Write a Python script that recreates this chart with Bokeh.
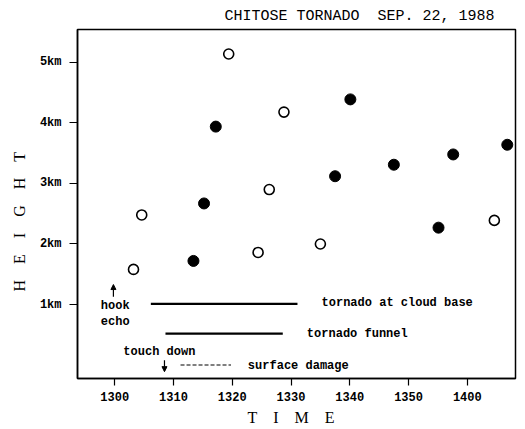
import math
from bokeh.plotting import figure
from bokeh.models import Label, FixedTicker, Title, Arrow, NormalHead
from bokeh.embed import file_html
from bokeh.resources import INLINE

# time in minutes after 13:00 (1300 ... 1400)
open_t = [3.2, 4.6, 19.4, 24.4, 26.3, 28.8, 35.0, 64.6]
open_h = [1.58, 2.48, 5.14, 1.86, 2.90, 4.18, 2.00, 2.39]
filled_t = [13.4, 15.2, 17.2, 37.5, 40.1, 47.5, 55.1, 57.6, 66.8]
filled_h = [1.72, 2.67, 3.94, 3.12, 4.39, 3.31, 2.27, 3.48, 3.64]

x_ticks = [0, 10, 20, 30, 40, 50, 60]
x_tick_labels = ["1300", "1310", "1320", "1330", "1340", "1350", "1400"]
y_ticks = [1, 2, 3, 4, 5]
y_tick_labels = ["1km", "2km", "3km", "4km", "5km"]

cloud_base = [6.15, 31.1]      # tornado at cloud base (time span)
funnel = [8.64, 28.6]          # tornado funnel
damage = [11.2, 19.8]          # surface damage
cloud_base_h = 1.01
funnel_h = 0.52
damage_h = 0.0

hook_echo_t = -0.22            # hook echo arrow (time, from/to height)
hook_echo_h = [1.13, 1.33]
touch_down_t = 8.47            # touch down arrow
touch_down_h = [0.08, -0.11]

NB = "\u00a0"
title_text = "CHITOSE TORNADO " + NB + "SEP. 22, 1988"
x_label = (NB * 4).join("TIME")
y_label = (NB * 4).join("HEIGHT")

p = figure(width=525, height=429, output_backend="svg", toolbar_location=None,
           x_range=(-6.33, 68.2), y_range=(-0.223, 5.545),
           min_border_left=76, min_border_right=10, min_border_top=29, min_border_bottom=51)
p.background_fill_color = "white"
p.border_fill_color = "white"
p.grid.visible = False
p.outline_line_color = "black"
p.outline_line_width = 1.5

mono = "Liberation Mono"
for ax in (p.xaxis[0], p.yaxis[0]):
    ax.axis_line_color = "black"
    ax.axis_line_width = 1.5
    ax.major_tick_line_color = "black"
    ax.major_tick_line_width = 1.2
    ax.major_tick_in = 0
    ax.minor_tick_line_color = None
    ax.major_label_text_font = mono
    ax.major_label_text_font_style = "bold"
    ax.major_label_text_font_size = "12px"
    ax.major_label_text_color = "black"

p.xaxis.ticker = FixedTicker(ticks=x_ticks)
p.xaxis.major_label_overrides = dict(zip(x_ticks, x_tick_labels))
p.xaxis.major_tick_out = 7
p.xaxis.major_label_standoff = 6
p.yaxis.ticker = FixedTicker(ticks=y_ticks)
p.yaxis.major_label_overrides = dict(zip(y_ticks, y_tick_labels))
p.yaxis.major_tick_out = 8
p.yaxis.major_label_standoff = 8

p.title.text = title_text
p.title.align = "right"
p.title.offset = 21
p.title.standoff = 9
p.title.text_font = mono
p.title.text_font_size = "15px"
p.title.text_font_style = "normal"
p.title.text_color = "black"

p.add_layout(Title(text=x_label, align="left", offset=170, text_font="Liberation Serif",
                   text_font_size="16px", text_font_style="normal", text_color="black",
                   standoff=7), "below")
p.add_layout(Title(text=y_label, align="left", offset=87, text_font="Liberation Serif",
                   text_font_size="16px", text_font_style="normal", text_color="black",
                   standoff=17), "left")

p.scatter(open_t, open_h, size=10, fill_color="white", line_color="black", line_width=1.6)
p.scatter(filled_t, filled_h, size=11, fill_color="black", line_color="black")

p.line(cloud_base, [cloud_base_h] * 2, line_color="black", line_width=2.2)
p.line(funnel, [funnel_h] * 2, line_color="black", line_width=2.2)
p.line(damage, [damage_h] * 2, line_color="black", line_width=1.2, line_dash="4 2")

for t, hs in ((hook_echo_t, hook_echo_h), (touch_down_t, touch_down_h)):
    p.add_layout(Arrow(end=NormalHead(size=5, fill_color="black", line_color="black", line_width=1),
                       x_start=t, y_start=hs[0], x_end=t, y_end=hs[1],
                       line_color="black", line_width=1.2))

def lab(x, y, text, size="12px", font=mono, style="bold", align="left"):
    p.add_layout(Label(x=x, y=y, text=text, text_font=font, text_font_size=size,
                       text_font_style=style, text_align=align, text_baseline="middle",
                       text_color="black"))

lab(35.2, 1.03, "tornado at cloud base")
lab(32.7, 0.51, "tornado funnel")
lab(22.66, -0.01, "surface damage")
lab(1.47, 0.22, "touch down")
lab(-2.37, 0.98, "hook")
lab(-2.37, 0.71, "echo")

open("out.html", "w").write(file_html(p, INLINE))
